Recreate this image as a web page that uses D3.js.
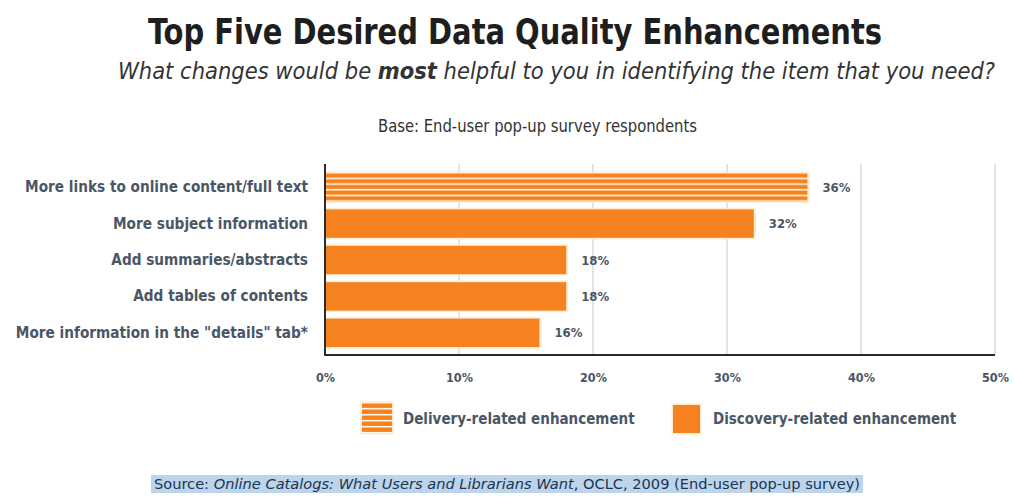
<!DOCTYPE html>
<html>
<head>
<meta charset="utf-8">
<script src="https://cdn.jsdelivr.net/npm/d3@7"></script>
<style>
  html, body { margin: 0; padding: 0; background: #ffffff; }
  svg { display: block; }
  text { font-family: "Liberation Sans Narrow", "DejaVu Sans Condensed", "Liberation Sans", sans-serif; }
</style>
</head>
<body>
<svg id="chart" width="1014" height="499"></svg>
<script>
// Survey answers, largest first
const categories = [
  "More links to online content/full text",
  "More subject information",
  "Add summaries/abstracts",
  "Add tables of contents",
  "More information in the \"details\" tab*"
];
const values = [36, 32, 18, 18, 16];
const kinds = ["delivery", "discovery", "discovery", "discovery", "discovery"];
const tickValues = [0, 10, 20, 30, 40, 50];
const legendItems = [
  { kind: "delivery", label: "Delivery-related enhancement" },
  { kind: "discovery", label: "Discovery-related enhancement" }
];

const ORANGE = "#f5821f";
const CREAM = "#fdebd2";
const LABEL = "#4a5666";

const svg = d3.select("#chart");
const defs = svg.append("defs");

// Titles
svg.append("text")
  .attr("x", 148).attr("y", 44)
  .attr("textLength", 734).attr("lengthAdjust", "spacingAndGlyphs")
  .attr("font-size", 36).attr("font-weight", "bold").attr("fill", "#1e1e1e")
  .text("Top Five Desired Data Quality Enhancements");

const sub = svg.append("text")
  .attr("x", 118).attr("y", 79)
  .attr("textLength", 877).attr("lengthAdjust", "spacingAndGlyphs")
  .attr("font-size", 23).attr("font-style", "italic").attr("fill", "#333");
sub.append("tspan").text("What changes would be ");
sub.append("tspan").attr("font-weight", "bold").text("most");
sub.append("tspan").text(" helpful to you in identifying the item that you need?");

svg.append("text")
  .attr("x", 378).attr("y", 132)
  .attr("textLength", 319).attr("lengthAdjust", "spacingAndGlyphs")
  .attr("font-size", 17).attr("fill", "#333")
  .text("Base: End-user pop-up survey respondents");

// Scales
const x = d3.scaleLinear().domain([0, 50]).range([325, 995]);
const y = d3.scaleBand().domain(categories).range([169, 351])
  .paddingInner(0.22).paddingOuter(0.11);

// Striped fill for delivery-related bars
function stripePattern(id, top, h) {
  const period = h / 5;
  const p = defs.append("pattern")
    .attr("id", id)
    .attr("patternUnits", "userSpaceOnUse")
    .attr("width", 10).attr("height", period)
    .attr("patternTransform", `translate(0,${top})`);
  p.append("rect").attr("width", 10).attr("height", period).attr("fill", "#fff6e6");
  p.append("rect").attr("y", 0.5).attr("width", 10).attr("height", period - 1.6).attr("fill", ORANGE);
}

// Gridlines
svg.append("g")
  .selectAll("line")
  .data(tickValues.slice(1))
  .join("line")
  .attr("x1", d => x(d)).attr("x2", d => x(d))
  .attr("y1", 164).attr("y2", 355)
  .attr("stroke", "#cfd2d6").attr("stroke-width", 1.2);

// Bars
const bars = svg.append("g");
categories.forEach((c, i) => {
  const top = y(c), h = y.bandwidth();
  bars.append("rect")
    .attr("x", x(0)).attr("y", top - 1.5)
    .attr("width", x(values[i]) - x(0) + 2).attr("height", h + 3)
    .attr("fill", CREAM);
  let fill = ORANGE;
  if (kinds[i] === "delivery") {
    stripePattern("stripe-bar-" + i, top, h);
    fill = `url(#stripe-bar-${i})`;
  }
  bars.append("rect")
    .attr("x", x(0)).attr("y", top)
    .attr("width", x(values[i]) - x(0)).attr("height", h)
    .attr("fill", fill);
  bars.append("text")
    .attr("x", x(values[i]) + 15).attr("y", top + h / 2 + 4.5)
    .attr("font-size", 13).attr("font-weight", "bold").attr("fill", LABEL)
    .text(values[i] + "%");
});

// Category labels
svg.append("g")
  .selectAll("text")
  .data(categories)
  .join("text")
  .attr("x", 308).attr("y", d => y(d) + y.bandwidth() / 2 + 5)
  .attr("text-anchor", "end")
  .attr("font-size", 15.2).attr("font-weight", "bold").attr("fill", LABEL)
  .text(d => d);

// Axes
const xAxis = d3.axisBottom(x).tickValues(tickValues).tickSize(0).tickPadding(18)
  .tickFormat(d => d + "%");
const gx = svg.append("g").attr("transform", "translate(0,355)").call(xAxis);
gx.select(".domain").remove();
gx.selectAll("text")
  .attr("font-size", 12.5).attr("font-weight", "bold").attr("fill", LABEL)
  .style("font-family", '"Liberation Sans Narrow", "DejaVu Sans Condensed", sans-serif');

svg.append("line")
  .attr("x1", x(0)).attr("x2", x(0)).attr("y1", 164).attr("y2", 356)
  .attr("stroke", "#2b2b2b").attr("stroke-width", 2);
svg.append("line")
  .attr("x1", x(0) - 1).attr("x2", x(50)).attr("y1", 355).attr("y2", 355)
  .attr("stroke", "#2b2b2b").attr("stroke-width", 2.2);

// Legend
const legendPos = [
  { sx: 362, sy: 403, sw: 30, sh: 30, tx: 403 },
  { sx: 673, sy: 405, sw: 27, sh: 28, tx: 713 }
];
legendItems.forEach((item, i) => {
  const p = legendPos[i];
  let fill = ORANGE;
  if (item.kind === "delivery") {
    stripePattern("stripe-legend-" + i, p.sy, p.sh);
    fill = `url(#stripe-legend-${i})`;
  }
  svg.append("rect")
    .attr("x", p.sx - 1.5).attr("y", p.sy - 1.5)
    .attr("width", p.sw + 3).attr("height", p.sh + 3).attr("fill", CREAM);
  svg.append("rect")
    .attr("x", p.sx).attr("y", p.sy).attr("width", p.sw).attr("height", p.sh)
    .attr("fill", fill);
  svg.append("text")
    .attr("x", p.tx).attr("y", 424)
    .attr("font-size", 15).attr("font-weight", "bold").attr("fill", LABEL)
    .text(item.label);
});

// Source line with its highlight
svg.append("rect")
  .attr("x", 151).attr("y", 475).attr("width", 712).attr("height", 18)
  .attr("fill", "#bcd5ec");
const src = svg.append("text")
  .attr("x", 154).attr("y", 489)
  .attr("textLength", 706).attr("lengthAdjust", "spacingAndGlyphs")
  .attr("font-size", 14.5).attr("fill", "#1d3450");
src.append("tspan").text("Source: ");
src.append("tspan").attr("font-style", "italic").text("Online Catalogs: What Users and Librarians Want");
src.append("tspan").text(", OCLC, 2009 (End-user pop-up survey)");
</script>
</body>
</html>
